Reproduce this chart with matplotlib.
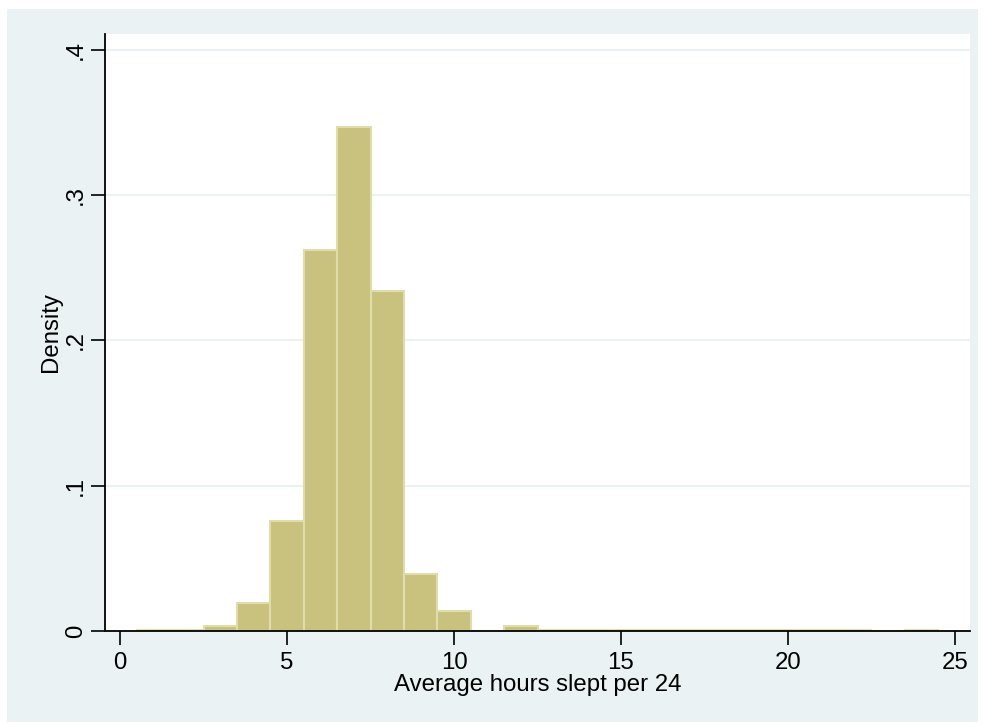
import numpy as np
import matplotlib.pyplot as plt
from matplotlib.patches import Rectangle

plt.rcParams['font.family'] = ['Liberation Sans', 'DejaVu Sans']

# histogram bins (width 1, starting at 0.5) and densities
bin_left = [0.5, 1.5, 2.5, 3.5, 4.5, 5.5, 6.5, 7.5, 8.5, 9.5, 10.5, 11.5,
            12.5, 13.5, 14.5, 15.5, 16.5, 17.5, 18.5, 19.5, 20.5, 21.5, 22.5, 23.5]
density = [0.0007, 0.0007, 0.0036, 0.019, 0.0757, 0.262, 0.347, 0.234, 0.039, 0.0138, 0.0, 0.0034,
           0.0007, 0.0007, 0.0007, 0.0007, 0.0007, 0.0007, 0.0007, 0.0007, 0.0007, 0.0007, 0.0, 0.0007]
x_ticks = [0, 5, 10, 15, 20, 25]
y_ticks = [0, 0.1, 0.2, 0.3, 0.4]
y_labels = ['0', '.1', '.2', '.3', '.4']

W, H = 985, 724
fig = plt.figure(figsize=(W / 100, H / 100), dpi=100, facecolor='white')

# Stata-like light blue graph region
fig.patches.append(Rectangle((7 / W, 1 - 722 / H), (978 - 7) / W, (722 - 9) / H,
                             transform=fig.transFigure, facecolor='#EAF2F3',
                             edgecolor='none', zorder=-10))

ax = fig.add_axes([105 / W, 1 - 631 / H, (970 - 105) / W, (631 - 34) / H])
ax.set_facecolor('white')

ax.bar(bin_left, density, width=1.0, align='edge', color='#C9C27F',
       edgecolor='#E0DCAC', linewidth=1.5, zorder=3)

ax.set_xlim(-0.45, 25.45)
ax.set_ylim(0, 0.411)

ax.set_yticks(y_ticks)
ax.set_yticklabels(y_labels, rotation=90, va='center')
ax.set_xticks(x_ticks)
ax.tick_params(axis='both', length=10, width=1.2, labelsize=17.3, colors='black')
ax.tick_params(axis='x', pad=5)
ax.tick_params(axis='y', pad=3)
ax.grid(axis='y', color='#EAF2F3', linewidth=1.5, zorder=0)
ax.set_axisbelow(True)

for side in ['top', 'right']:
    ax.spines[side].set_visible(False)
for side in ['left', 'bottom']:
    ax.spines[side].set_linewidth(1.3)
    ax.spines[side].set_zorder(4)

ax.set_xlabel('Average hours slept per 24', fontsize=17.3, labelpad=0)
ax.set_ylabel('Density', fontsize=17.3, labelpad=2)

fig.savefig('out.png', dpi=100, facecolor='white')
